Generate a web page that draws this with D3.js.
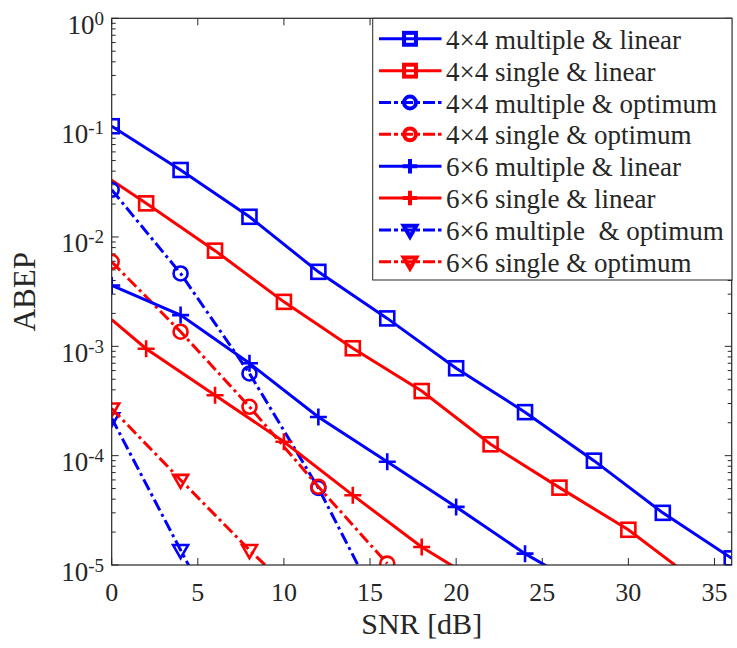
<!DOCTYPE html>
<html><head><meta charset="utf-8">
<script src="https://cdn.jsdelivr.net/npm/d3@7/dist/d3.min.js"></script>
<style>
body{margin:0;background:#fff}
text{font-family:"Liberation Serif","Times New Roman",serif;fill:#262626}
</style>
</head><body>
<svg id="c" width="737" height="648"></svg>
<script>
// ---- data ----
const xTicks = [0, 5, 10, 15, 20, 25, 30, 35];
const yTickExps = [0, -1, -2, -3, -4, -5];
const xLabel = "SNR [dB]";
const yLabel = "ABEP";

const names = [
  "4×4 multiple & linear",
  "4×4 single & linear",
  "4×4 multiple & optimum",
  "4×4 single & optimum",
  "6×6 multiple & linear",
  "6×6 single & linear",
  "6×6 multiple  & optimum",
  "6×6 single & optimum"
];

const snr_ml44 = [0, 4, 8, 12, 16, 20, 24, 28, 32, 36];
const ber_ml44 = [0.103, 0.041, 0.0153, 0.0048, 0.0018, 6.3e-4, 2.5e-4, 9.0e-5, 3.0e-5, 1.15e-5];
const mk_ml44  = [0, 1, 2, 3, 4, 5, 6, 7, 8, 9];

const snr_sl44 = [0, 2, 6, 10, 14, 18, 22, 26, 30, 34];
const ber_sl44 = [0.033, 0.0203, 0.0075, 0.00255, 9.6e-4, 3.9e-4, 1.27e-4, 5.1e-5, 2.1e-5, 7e-6];
const mk_sl44  = [1, 2, 3, 4, 5, 6, 7, 8];

const snr_mo44 = [0, 4, 8, 12, 16];
const ber_mo44 = [0.027, 0.00464, 5.65e-4, 5.07e-5, 3e-6];
const mk_mo44  = [0, 1, 2, 3];

const snr_so44 = [0, 4, 8, 12, 16];
const ber_so44 = [0.00593, 1.36e-3, 2.8e-4, 5.2e-5, 1.03e-5];
const mk_so44  = [0, 1, 2, 3, 4];

const snr_ml66 = [0, 4, 8, 12, 16, 20, 24, 28];
const ber_ml66 = [3.6e-3, 1.93e-3, 7.0e-4, 2.26e-4, 8.8e-5, 3.4e-5, 1.27e-5, 5.5e-6];
const mk_ml66  = [0, 1, 2, 3, 4, 5, 6];

const snr_sl66 = [0, 2, 6, 10, 14, 18, 22];
const ber_sl66 = [1.75e-3, 9.5e-4, 3.57e-4, 1.34e-4, 4.35e-5, 1.46e-5, 6e-6];
const mk_sl66  = [1, 2, 3, 4, 5];

const snr_mo66 = [0, 4, 8];
const ber_mo66 = [2.2e-4, 1.37e-5, 9e-7];
const mk_mo66  = [0, 1];

const snr_so66 = [0, 4, 8, 12];
const ber_so66 = [2.7e-4, 6.0e-5, 1.37e-5, 3.4e-6];
const mk_so66  = [0, 1, 2];

// ---- styles ----
const BLUE = "#0000ff", RED = "#ff0000";
const series = [
  {name: names[0], x: snr_ml44, y: ber_ml44, mk: mk_ml44, color: BLUE, dash: false, marker: "square"},
  {name: names[1], x: snr_sl44, y: ber_sl44, mk: mk_sl44, color: RED,  dash: false, marker: "square"},
  {name: names[2], x: snr_mo44, y: ber_mo44, mk: mk_mo44, color: BLUE, dash: true,  marker: "circle"},
  {name: names[3], x: snr_so44, y: ber_so44, mk: mk_so44, color: RED,  dash: true,  marker: "circle"},
  {name: names[4], x: snr_ml66, y: ber_ml66, mk: mk_ml66, color: BLUE, dash: false, marker: "plus"},
  {name: names[5], x: snr_sl66, y: ber_sl66, mk: mk_sl66, color: RED,  dash: false, marker: "plus"},
  {name: names[6], x: snr_mo66, y: ber_mo66, mk: mk_mo66, color: BLUE, dash: true,  marker: "tri"},
  {name: names[7], x: snr_so66, y: ber_so66, mk: mk_so66, color: RED,  dash: true,  marker: "tri"}
];

const L = 111.7, R = 731.7, T = 18.3, B = 565;
const svg = d3.select("#c");
const x = d3.scaleLinear().domain([0, 36]).range([L, R]);
const y = d3.scaleLog().domain([1e-5, 1]).range([B, T]);
const AX = "#262626";
const DASH = "12,4,3,4";

svg.append("rect").attr("x", L).attr("y", T).attr("width", R - L).attr("height", B - T).attr("fill", "#fff");

svg.append("defs").append("clipPath").attr("id", "clip")
  .append("rect").attr("x", L).attr("y", T).attr("width", R - L).attr("height", B - T);

// ticks (inward, mirrored)
const tk = svg.append("g").attr("stroke", AX).attr("stroke-width", 1);
xTicks.forEach(v => {
  tk.append("line").attr("x1", x(v)).attr("x2", x(v)).attr("y1", B).attr("y2", B - 7);
  tk.append("line").attr("x1", x(v)).attr("x2", x(v)).attr("y1", T).attr("y2", T + 7);
});
yTickExps.forEach(e => {
  const v = Math.pow(10, e);
  tk.append("line").attr("x1", L).attr("x2", L + 7).attr("y1", y(v)).attr("y2", y(v));
  tk.append("line").attr("x1", R).attr("x2", R - 7).attr("y1", y(v)).attr("y2", y(v));
  if (e > -5) {
    for (let m = 2; m <= 9; m++) {
      const mv = m * Math.pow(10, e - 1);
      tk.append("line").attr("x1", L).attr("x2", L + 4).attr("y1", y(mv)).attr("y2", y(mv));
      tk.append("line").attr("x1", R).attr("x2", R - 4).attr("y1", y(mv)).attr("y2", y(mv));
    }
  }
});

// series
const plot = svg.append("g").attr("clip-path", "url(#clip)");
const line = d3.line().x(d => x(d[0])).y(d => y(d[1]));

function drawMarker(g, type, cx, cy, color, sc, sw) {
  if (type === "square") {
    const s = 7 * sc;
    g.append("rect").attr("x", cx - s).attr("y", cy - s).attr("width", 2 * s).attr("height", 2 * s)
      .attr("fill", "none").attr("stroke", color).attr("stroke-width", sw);
  } else if (type === "circle") {
    g.append("circle").attr("cx", cx).attr("cy", cy).attr("r", 7 * sc)
      .attr("fill", "none").attr("stroke", color).attr("stroke-width", sw);
  } else if (type === "plus") {
    const s = 8.5 * sc;
    g.append("path").attr("d", `M${cx - s},${cy}H${cx + s}M${cx},${cy - s}V${cy + s}`)
      .attr("fill", "none").attr("stroke", color).attr("stroke-width", sw);
  } else if (type === "tri") {
    const w = 7.5 * sc, h1 = 5 * sc, h2 = 8 * sc;
    g.append("path").attr("d", `M${cx - w},${cy - h1}L${cx + w},${cy - h1}L${cx},${cy + h2}Z`)
      .attr("fill", "none").attr("stroke", color).attr("stroke-width", sw).attr("stroke-linejoin", "miter");
  }
}

series.forEach(s => {
  const pts = s.x.map((v, i) => [v, s.y[i]]);
  plot.append("path").attr("d", line(pts)).attr("fill", "none")
    .attr("stroke", s.color).attr("stroke-width", 3)
    .attr("stroke-dasharray", s.dash ? DASH : null);
  s.mk.forEach(i => drawMarker(plot, s.marker, x(s.x[i]), y(s.y[i]), s.color, 1, 2.6));
});

// frame
svg.append("rect").attr("x", L).attr("y", T).attr("width", R - L).attr("height", B - T)
  .attr("fill", "none").attr("stroke", AX).attr("stroke-width", 1.2);

// tick labels
xTicks.forEach(v => {
  svg.append("text").attr("x", x(v)).attr("y", 601).attr("text-anchor", "middle")
    .attr("font-size", 26).text(v);
});
yTickExps.forEach(e => {
  const t = svg.append("text").attr("x", 104).attr("y", y(Math.pow(10, e)) + 15.5)
    .attr("text-anchor", "end").attr("font-size", 27);
  t.append("tspan").text("10");
  t.append("tspan").attr("dy", -9).attr("font-size", 19).text(e);
});

// axis labels
svg.append("text").attr("x", (L + R) / 2).attr("y", 634).attr("text-anchor", "middle")
  .attr("font-size", 30).text(xLabel);
svg.append("text").attr("transform", `translate(35,${(T + B) / 2}) rotate(-90)`)
  .attr("text-anchor", "middle").attr("font-size", 31).text(yLabel);

// legend
const LX0 = 372.7, LX1 = 732, LY0 = 18.3, LY1 = 280;
const lg = svg.append("g");
lg.append("rect").attr("x", LX0).attr("y", LY0).attr("width", LX1 - LX0).attr("height", LY1 - LY0)
  .attr("fill", "#fff").attr("stroke", AX).attr("stroke-width", 1);
series.forEach((s, i) => {
  const cy = LY0 + 20.5 + i * 31.85;
  lg.append("line").attr("x1", 379).attr("x2", 441.5).attr("y1", cy).attr("y2", cy)
    .attr("stroke", s.color).attr("stroke-width", 3)
    .attr("stroke-dasharray", s.dash ? "12,3,4,3" : null);
  drawMarker(lg, s.marker, 410, cy, s.color, 0.85, 4);
  lg.append("text").attr("x", 446).attr("y", cy + 10).attr("font-size", 27)
    .style("white-space", "pre").text(s.name);
});
</script>
</body></html>
